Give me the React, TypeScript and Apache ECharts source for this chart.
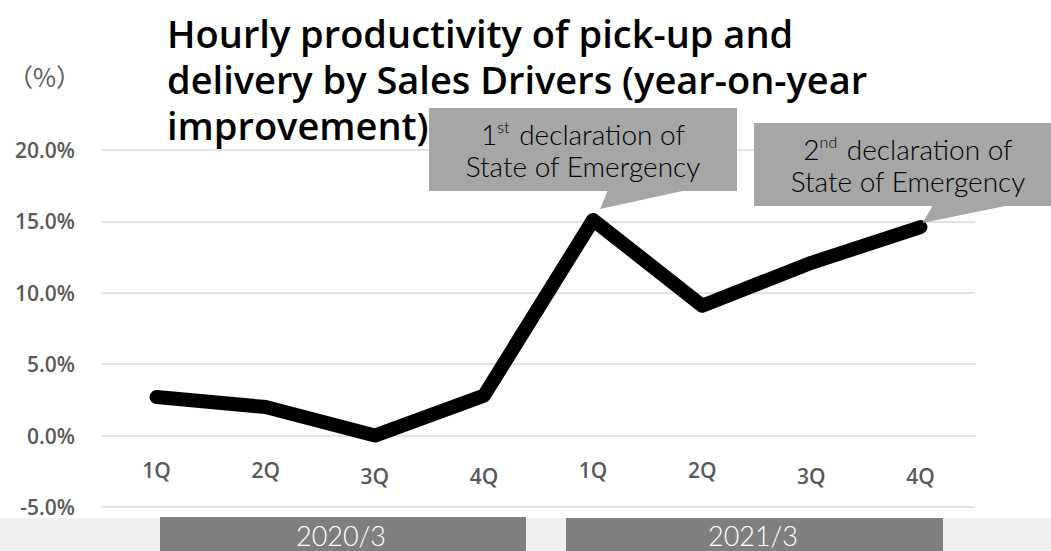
import React, { useEffect, useRef } from "react";
import * as echarts from "echarts";

const quarters = ["1Q", "2Q", "3Q", "4Q", "1Q", "2Q", "3Q", "4Q"];
const lowLabelIdx = [2, 3, 6, 7];
const productivity = [2.7, 2.0, 0.0, 2.8, 15.1, 9.1, 12.1, 14.6];
const yMin = -5;
const yMax = 20;
const yInterval = 5;
const fiscalYears = ["2020/3", "2021/3"];
const titleLines = [
  "Hourly productivity of pick-up and",
  "delivery by Sales Drivers (year-on-year",
  "improvement)",
];
const calloutOrd = ["1", "2"];
const calloutSup = ["st", "nd"];
const calloutIndex = [4, 7];

const GRAY_TXT = "#595959";
const LABEL_FONT = "'Open Sans', 'Noto Sans', sans-serif";
const LIGHT_FONT = "Lato, 'Open Sans', sans-serif";
const CJK_FONT = "'Noto Sans CJK JP', sans-serif";

export default function App() {
  const ref = useRef<HTMLDivElement>(null);
  useEffect(() => {
    if (!ref.current) return;
    const chart = echarts.init(ref.current, null, { renderer: "svg" });
    const labelRich = {
      hi: { fontFamily: LABEL_FONT, fontSize: 21, fontWeight: 600, color: GRAY_TXT, padding: [0, 0, 6, 0] },
      lo: { fontFamily: LABEL_FONT, fontSize: 21, fontWeight: 600, color: GRAY_TXT, padding: [6, 0, 0, 0] },
    };
    chart.setOption({
      animation: false,
      backgroundColor: "#ffffff",
      title: {
        text: titleLines.join("\n"),
        left: 162,
        top: 5,
        textStyle: {
          fontFamily: LABEL_FONT,
          fontSize: 38,
          fontWeight: 600,
          color: "#000000",
          lineHeight: 46,
        },
      },
      grid: { left: 102, right: 76, top: 150, bottom: 44, containLabel: false },
      xAxis: {
        type: "category",
        data: quarters,
        boundaryGap: true,
        axisLine: { show: false, onZero: false },
        axisTick: { show: false },
        splitLine: { show: false },
        axisLabel: {
          margin: -48,
          interval: 0,
          formatter: (v: string, i: number) => (lowLabelIdx.includes(i) ? `{lo|${v}}` : `{hi|${v}}`),
          rich: labelRich,
        },
      },
      yAxis: {
        type: "value",
        min: yMin,
        max: yMax,
        interval: yInterval,
        axisLine: { show: false },
        axisTick: { show: false },
        splitLine: { lineStyle: { color: "#d9d9d9", width: 1.5 } },
        axisLabel: {
          margin: 27,
          fontFamily: LABEL_FONT,
          fontSize: 21,
          fontWeight: 600,
          color: GRAY_TXT,
          formatter: (v: number) => v.toFixed(1) + "%",
        },
      },
      series: [
        {
          type: "line",
          data: productivity,
          symbol: "none",
          lineStyle: { color: "#000000", width: 14, cap: "round", join: "round" },
          z: 3,
        },
      ],
    });

    const tip1 = chart.convertToPixel({ gridIndex: 0 }, [calloutIndex[0], productivity[calloutIndex[0]]]) as number[];
    const tip2 = chart.convertToPixel({ gridIndex: 0 }, [calloutIndex[1], productivity[calloutIndex[1]]]) as number[];

    const calloutText = (k: number) =>
      `{n|${calloutOrd[k]}}{s|${calloutSup[k]}}{n| declaration of}\n{n|State of Emergency}`;
    const calloutRich = {
      n: { fontFamily: LIGHT_FONT, fontSize: 28, fontWeight: 300, color: "#f2f2f2", lineHeight: 32 },
      s: { fontFamily: LIGHT_FONT, fontSize: 16, fontWeight: 300, color: "#f2f2f2", verticalAlign: "top", lineHeight: 32, padding: [0, 2, 10, 0] },
    };

    chart.setOption({
      graphic: [
        {
          type: "text",
          left: 8,
          top: 63,
          z: 100,
          style: { text: "（%）", fontFamily: CJK_FONT, fontSize: 25, fill: GRAY_TXT },
        },
        // callout 1
        {
          type: "rect",
          z: 100,
          shape: { x: 429, y: 108, width: 308, height: 83 },
          style: { fill: "#a6a6a6" },
        },
        {
          type: "polygon",
          z: 100,
          shape: { points: [[608, 190], [687, 190], [tip1[0] + 7, tip1[1] - 11]] },
          style: { fill: "#a6a6a6" },
        },
        {
          type: "text",
          z: 101,
          x: 583,
          y: 150,
          style: { text: calloutText(0), rich: calloutRich, align: "center", verticalAlign: "middle" },
        },
        // callout 2
        {
          type: "rect",
          z: 100,
          shape: { x: 754, y: 123, width: 308, height: 83 },
          style: { fill: "#a6a6a6" },
        },
        {
          type: "polygon",
          z: 100,
          shape: { points: [[933, 205], [1010, 205], [tip2[0] + 2, tip2[1] - 4]] },
          style: { fill: "#a6a6a6" },
        },
        {
          type: "text",
          z: 101,
          x: 908,
          y: 165,
          style: { text: calloutText(1), rich: calloutRich, align: "center", verticalAlign: "middle" },
        },
        // bottom band
        {
          type: "rect",
          z: 90,
          shape: { x: 0, y: 518, width: 1051, height: 33 },
          style: { fill: "#efefef" },
        },
        {
          type: "rect",
          z: 91,
          shape: { x: 160, y: 517, width: 366, height: 34 },
          style: { fill: "#7f7f7f" },
        },
        {
          type: "text",
          z: 92,
          x: 341,
          y: 535,
          style: { text: fiscalYears[0], fontFamily: LIGHT_FONT, fontSize: 27, fontWeight: 300, fill: "#ffffff", align: "center", verticalAlign: "middle" },
        },
        {
          type: "rect",
          z: 91,
          shape: { x: 566, y: 518, width: 377, height: 33 },
          style: { fill: "#7f7f7f" },
        },
        {
          type: "text",
          z: 92,
          x: 753,
          y: 535,
          style: { text: fiscalYears[1], fontFamily: LIGHT_FONT, fontSize: 27, fontWeight: 300, fill: "#ffffff", align: "center", verticalAlign: "middle" },
        },
      ],
    });

    return () => chart.dispose();
  }, []);
  return (
    <div
      ref={ref}
      style={{ position: "fixed", left: 0, top: 0, width: 1051, height: 551, background: "#fff" }}
    />
  );
}
